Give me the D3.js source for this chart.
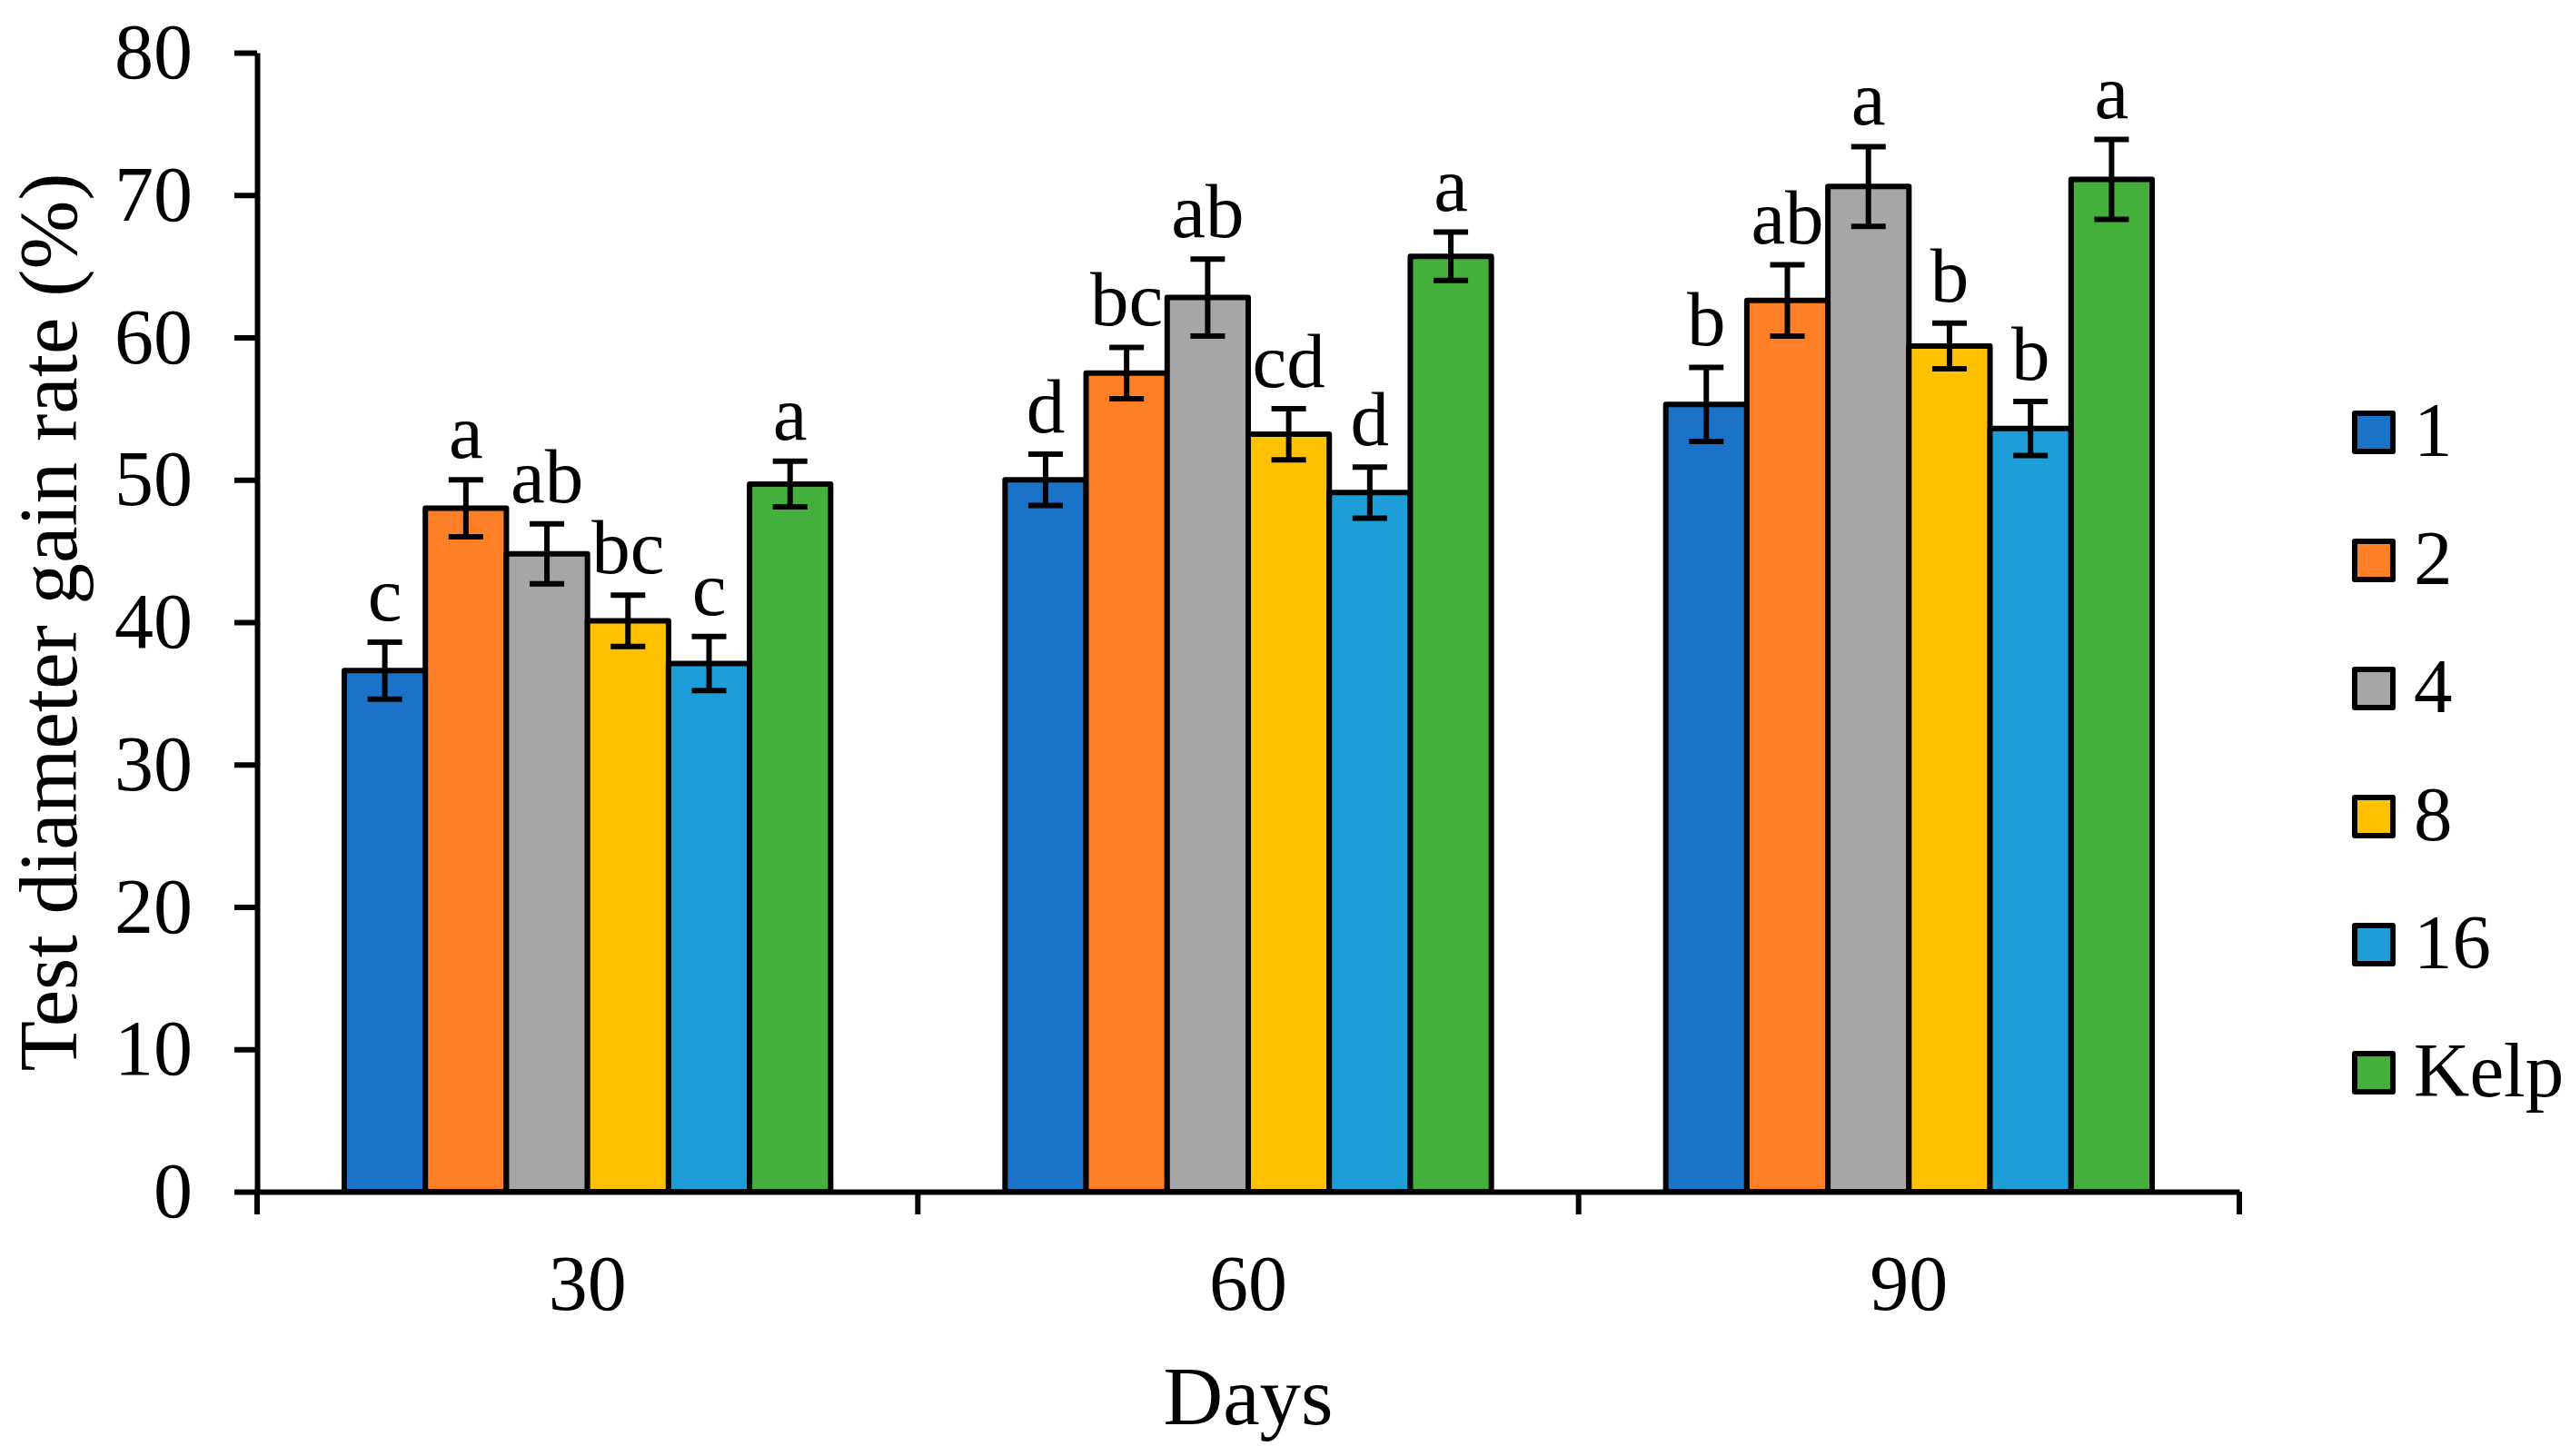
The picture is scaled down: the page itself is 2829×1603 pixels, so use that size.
<!DOCTYPE html>
<html>
<head>
  <title>Test diameter gain rate</title>
  <script src="https://d3js.org/d3.v7.min.js"></script>
  <style>
    body { margin: 0; background: #fff; }
    text { font-family: "Liberation Serif", "Times New Roman", serif; fill: #000; }
  </style>
</head>
<body>
  <svg id="chart"></svg>
  <script>
    // groups on the x axis (days) and the treatments in each group
    const days = ["30", "60", "90"];
    const groups = ["1", "2", "4", "8", "16", "Kelp"];
    const colors = ["#1a73c8", "#ff7f27", "#a6a6a6", "#ffc000", "#1e9ed9", "#44af3b"];

    // mean values, one array per treatment (30, 60, 90 days)
    const g1   = [36.6, 50.0, 55.3];
    const g2   = [48.0, 57.5, 62.6];
    const g4   = [44.8, 62.8, 70.6];
    const g8   = [40.1, 53.2, 59.4];
    const g16  = [37.1, 49.1, 53.6];
    const kelp = [49.7, 65.7, 71.1];

    // standard errors
    const e1   = [2.0, 1.8, 2.6];
    const e2   = [2.0, 1.8, 2.5];
    const e4   = [2.1, 2.7, 2.8];
    const e8   = [1.8, 1.8, 1.6];
    const e16  = [1.9, 1.8, 1.9];
    const eKelp = [1.6, 1.7, 2.8];

    // significance letters
    const l1   = ["c", "d", "b"];
    const l2   = ["a", "bc", "ab"];
    const l4   = ["ab", "ab", "a"];
    const l8   = ["bc", "cd", "b"];
    const l16  = ["c", "d", "b"];
    const lKelp = ["a", "a", "a"];

    const yTicks = [0, 10, 20, 30, 40, 50, 60, 70, 80];

    const means = [g1, g2, g4, g8, g16, kelp];
    const errs = [e1, e2, e4, e8, e16, eKelp];
    const letters = [l1, l2, l4, l8, l16, lKelp];

    const W = 2829, H = 1603;
    const plotL = 283, plotR = 2465, plotT = 58, plotB = 1312;

    const svg = d3.select("#chart").attr("width", W).attr("height", H);

    const x0 = d3.scaleBand().domain(days).range([plotL, plotR]).padding(0);
    const x1 = d3.scaleBand().domain(groups).range([96, x0.bandwidth() - 96]).padding(0);
    const y = d3.scaleLinear().domain([0, 80]).range([plotB, plotT]);

    // build flat records
    const rows = [];
    days.forEach((d, i) => {
      groups.forEach((g, j) => {
        rows.push({ day: d, group: g, color: colors[j], v: means[j][i], e: errs[j][i], t: letters[j][i] });
      });
    });

    // bars
    svg.append("g").selectAll("rect")
      .data(rows)
      .join("rect")
      .attr("x", d => x0(d.day) + x1(d.group))
      .attr("y", d => y(d.v))
      .attr("width", x1.bandwidth())
      .attr("height", d => y(0) - y(d.v))
      .attr("fill", d => d.color)
      .attr("stroke", "#000")
      .attr("stroke-width", 6)
      .attr("stroke-linejoin", "round");

    // error bars
    const eb = svg.append("g").attr("stroke", "#000").attr("stroke-width", 6);
    const cap = 19;
    rows.forEach(d => {
      const cx = x0(d.day) + x1(d.group) + x1.bandwidth() / 2;
      eb.append("line").attr("x1", cx).attr("x2", cx).attr("y1", y(d.v + d.e)).attr("y2", y(d.v - d.e));
      eb.append("line").attr("x1", cx - cap).attr("x2", cx + cap).attr("y1", y(d.v + d.e)).attr("y2", y(d.v + d.e));
      eb.append("line").attr("x1", cx - cap).attr("x2", cx + cap).attr("y1", y(d.v - d.e)).attr("y2", y(d.v - d.e));
    });

    // letters
    svg.append("g").selectAll("text")
      .data(rows)
      .join("text")
      .attr("x", d => x0(d.day) + x1(d.group) + x1.bandwidth() / 2)
      .attr("y", d => y(d.v + d.e) - 24)
      .attr("text-anchor", "middle")
      .attr("font-size", 85)
      .text(d => d.t);

    // y axis
    const yAxis = svg.append("g")
      .attr("transform", `translate(${plotL},0)`)
      .call(d3.axisLeft(y).tickValues(yTicks).tickSize(25).tickSizeOuter(0).tickPadding(46));
    yAxis.selectAll("text").attr("font-size", 86).style("font-family", "Liberation Serif");
    yAxis.selectAll("line").attr("stroke", "#000").attr("stroke-width", 6);
    yAxis.select(".domain").attr("stroke", "#000").attr("stroke-width", 6);

    // x axis
    const xAxis = svg.append("g")
      .attr("transform", `translate(0,${plotB})`)
      .call(d3.axisBottom(x0).tickSize(0).tickSizeOuter(0).tickPadding(69));
    xAxis.selectAll("text").attr("font-size", 86).style("font-family", "Liberation Serif");
    xAxis.select(".domain").attr("stroke", "#000").attr("stroke-width", 6);

    // ticks at category boundaries
    const bounds = days.map(d => x0(d)).concat([x0(days[days.length - 1]) + x0.bandwidth()]);
    xAxis.selectAll(".bound")
      .data(bounds)
      .join("line")
      .attr("class", "bound")
      .attr("x1", d => d).attr("x2", d => d)
      .attr("y1", 0).attr("y2", 25)
      .attr("stroke", "#000").attr("stroke-width", 6);

    // axis titles
    svg.append("text")
      .attr("transform", `translate(84,${(plotT + plotB) / 2}) rotate(-90)`)
      .attr("text-anchor", "middle")
      .attr("font-size", 91)
      .text("Test diameter gain rate (%)");

    svg.append("text")
      .attr("x", (plotL + plotR) / 2)
      .attr("y", 1568)
      .attr("text-anchor", "middle")
      .attr("font-size", 91)
      .text("Days");

    // legend
    const legend = svg.append("g");
    groups.forEach((g, i) => {
      const cy = 476 + i * 141;
      legend.append("rect")
        .attr("x", 2592).attr("y", cy - 21)
        .attr("width", 42).attr("height", 42)
        .attr("fill", colors[i])
        .attr("stroke", "#000").attr("stroke-width", 6)
        .attr("stroke-linejoin", "round");
      legend.append("text")
        .attr("x", 2657).attr("y", cy + 26)
        .attr("font-size", 85)
        .text(g);
    });
  </script>
</body>
</html>
